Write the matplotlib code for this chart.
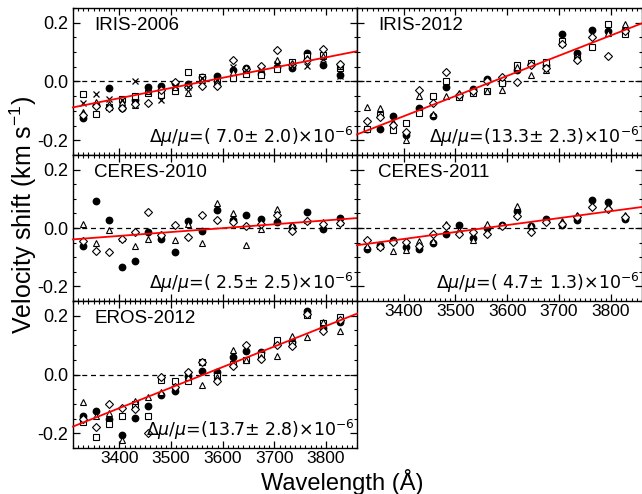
import matplotlib
matplotlib.use('Agg')
import matplotlib.pyplot as plt
import numpy as np
from matplotlib.ticker import MultipleLocator

plt.rcParams['font.family'] = ['Liberation Sans', 'DejaVu Sans']
plt.rcParams['mathtext.fontset'] = 'dejavusans'

# ---------------- data ----------------
wave = [3330, 3354, 3380, 3405, 3430, 3456, 3481, 3507, 3533, 3560,
        3589, 3619, 3645, 3675, 3705, 3734, 3763, 3795, 3827]

panel_names = ['IRIS-2006', 'IRIS-2012', 'CERES-2010', 'CERES-2011', 'EROS-2012']
dmu_value = [7.0, 13.3, 2.5, 4.7, 13.7]
dmu_error = [2.0, 2.3, 2.5, 1.3, 2.8]
fit_wave = [3310, 3860]
fit_at_3310 = [-0.088, -0.180, -0.039, -0.059, -0.177]
fit_at_3860 = [0.103, 0.198, 0.034, 0.072, 0.207]

iris2006_circle = [-0.125, -0.080, -0.023, -0.091, -0.063, -0.019, -0.017, -0.006, -0.008, 0.015,
                   0.019, 0.040, 0.046, 0.026, 0.051, 0.046, 0.097, 0.057, 0.023]
iris2006_square = [-0.042, -0.109, -0.088, -0.061, -0.049, -0.040, -0.046, -0.032, 0.031, 0.017,
                   0.006, 0.011, 0.026, 0.023, 0.042, 0.065, 0.086, 0.091, 0.046]
iris2006_triangle = [-0.105, -0.069, -0.077, -0.069, -0.080, -0.034, -0.023, -0.019, -0.038, 0.006,
                     0.000, 0.034, 0.040, 0.046, 0.074, 0.063, 0.080, 0.086, 0.054]
iris2006_diamond = [-0.115, -0.083, -0.091, -0.091, -0.077, -0.072, -0.029, -0.003, -0.019, -0.015,
                    -0.015, 0.074, 0.042, 0.054, 0.106, 0.057, 0.074, 0.111, 0.061]
iris2006_cross = [-0.072, -0.042, -0.061, -0.063, 0.000, -0.031, -0.063, -0.015, -0.019, 0.011,
                  0.006, 0.051, 0.040, 0.038, 0.061, 0.054, 0.054, 0.077, 0.019]

iris2012_circle = [-0.160, -0.160, -0.117, -0.183, -0.091, -0.118, -0.019, -0.051, -0.026, 0.009,
                   -0.006, 0.040, 0.061, 0.057, 0.162, 0.097, 0.175, 0.171, 0.175]
iris2012_square = [-0.163, -0.114, -0.166, -0.141, -0.106, -0.049, 0.000, -0.054, -0.038, -0.034,
                   -0.006, 0.057, 0.063, 0.065, 0.137, 0.080, 0.118, 0.194, 0.162]
iris2012_triangle = [-0.088, -0.091, -0.137, -0.198, -0.049, -0.112, -0.051, -0.040, -0.029, -0.034,
                     -0.029, 0.051, 0.023, 0.040, 0.131, 0.086, 0.157, 0.166, 0.194]
iris2012_diamond = [-0.134, -0.122, -0.149, -0.171, -0.029, -0.072, 0.031, -0.046, -0.034, 0.000,
                    0.014, -0.003, 0.057, 0.046, 0.126, 0.074, 0.152, 0.086, 0.171]

ceres2010_circle = [-0.063, 0.093, 0.026, -0.134, -0.114, -0.014, -0.037, -0.082, 0.023, -0.010,
                    0.061, 0.029, 0.046, 0.032, 0.021, 0.003, 0.055, -0.005, 0.035]
ceres2010_triangle = [0.013, -0.050, -0.008, -0.033, -0.063, -0.037, -0.025, -0.042, 0.015, -0.050,
                      0.086, 0.051, -0.059, -0.002, 0.066, 0.009, 0.029, 0.021, 0.021]
ceres2010_diamond = [-0.045, -0.079, -0.082, -0.037, -0.014, 0.055, -0.025, 0.009, -0.031, 0.043,
                     0.026, 0.021, 0.006, 0.013, 0.043, -0.010, 0.025, 0.013, 0.017]

ceres2011_circle = [-0.071, -0.059, -0.040, -0.065, -0.071, -0.051, -0.019, 0.009, -0.033, 0.001,
                    0.009, 0.057, 0.006, 0.032, 0.009, 0.026, 0.095, 0.089, 0.032]
ceres2011_triangle = [-0.060, -0.062, -0.079, -0.074, -0.045, -0.045, 0.015, -0.006, -0.040, 0.013,
                      0.009, 0.074, 0.009, 0.028, 0.024, 0.043, 0.078, 0.075, 0.043]
ceres2011_diamond = [-0.040, -0.065, -0.048, -0.048, -0.060, -0.022, 0.006, -0.019, -0.014, -0.019,
                     0.006, 0.040, -0.014, 0.021, 0.015, 0.038, 0.072, 0.066, 0.038]

eros2012_circle = [-0.142, -0.124, -0.151, -0.206, -0.148, -0.107, -0.069, -0.057, -0.006, 0.013,
                   0.009, 0.058, 0.079, 0.078, 0.105, 0.110, 0.216, 0.157, 0.180]
eros2012_square = [-0.163, -0.212, -0.169, -0.142, -0.099, -0.140, -0.020, -0.022, -0.022, 0.044,
                   -0.006, 0.036, 0.050, 0.067, 0.117, 0.105, 0.201, 0.176, 0.195]
eros2012_triangle = [-0.092, -0.142, -0.130, -0.223, -0.090, -0.076, -0.060, -0.043, -0.010, -0.035,
                     -0.010, 0.085, 0.048, 0.060, 0.062, 0.131, 0.128, 0.178, 0.149]
eros2012_diamond = [-0.153, -0.179, -0.099, -0.115, -0.119, -0.200, -0.010, -0.043, 0.009, 0.044,
                    -0.022, 0.029, 0.099, 0.052, 0.100, 0.097, 0.205, 0.149, 0.187]

panel_series = [
    {'o': iris2006_circle, 's': iris2006_square, '^': iris2006_triangle, 'D': iris2006_diamond, 'x': iris2006_cross},
    {'o': iris2012_circle, 's': iris2012_square, '^': iris2012_triangle, 'D': iris2012_diamond},
    {'o': ceres2010_circle, '^': ceres2010_triangle, 'D': ceres2010_diamond},
    {'o': ceres2011_circle, '^': ceres2011_triangle, 'D': ceres2011_diamond},
    {'o': eros2012_circle, 's': eros2012_square, '^': eros2012_triangle, 'D': eros2012_diamond},
]

# ---------------- layout ----------------
W, H = 642, 494
fig = plt.figure(figsize=(W / 100, H / 100), dpi=100)

col_x = [73, 357]
col_w = [284, 285]
row_top = [8, 155, 301]
row_bot = [155, 301, 448]
cells = [(0, 0), (0, 1), (1, 0), (1, 1), (2, 0)]
xlabel_panels = {3, 4}

msize = {'o': 4.6, 's': 4.8, '^': 5.0, 'D': 4.0, 'x': 5.0}

for i, (r, c) in enumerate(cells):
    ax = fig.add_axes([col_x[c] / W, 1 - row_bot[r] / H, col_w[c] / W, (row_bot[r] - row_top[r]) / H])
    ax.set_xlim(3310, 3860)
    ax.set_ylim(-0.25, 0.25)
    ax.axhline(0, color='black', lw=0.9, ls=(0, (4, 3)), zorder=1)
    for m, vals in panel_series[i].items():
        if m == 'o':
            ax.plot(wave, vals, ls='none', marker='o', ms=msize[m], mfc='black', mec='black', zorder=3)
        elif m == 'x':
            ax.plot(wave, vals, ls='none', marker='x', ms=msize[m], mec='black', mew=0.9, zorder=3)
        else:
            ax.plot(wave, vals, ls='none', marker=m, ms=msize[m], mfc='white', mec='black', mew=0.8, zorder=3)
    ax.plot(fit_wave, [fit_at_3310[i], fit_at_3860[i]], color='red', lw=1.3, zorder=4, clip_on=False)
    ax.text(0.075, 0.88, panel_names[i], transform=ax.transAxes, fontsize=13.5, va='center', ha='left')
    ax.text(0.99, 0.085,
            r'$\Delta\mu/\mu$=(%4.1f$\pm$%4.1f)$\times$10$^{-6}$' % (dmu_value[i], dmu_error[i]),
            transform=ax.transAxes, fontsize=12.5, ha='right', va='baseline', family='DejaVu Sans')
    ax.xaxis.set_major_locator(MultipleLocator(100))
    ax.xaxis.set_minor_locator(MultipleLocator(10))
    ax.yaxis.set_major_locator(MultipleLocator(0.2))
    ax.yaxis.set_minor_locator(MultipleLocator(0.05))
    ax.tick_params(which='both', direction='in', top=True, right=True, labelsize=13)
    ax.tick_params(which='major', length=5, width=0.9)
    ax.tick_params(which='minor', length=2.5, width=0.8)
    for s in ax.spines.values():
        s.set_linewidth(1.0)
    if c == 1:
        ax.set_yticklabels([])
    else:
        ax.yaxis.set_major_formatter(matplotlib.ticker.FormatStrFormatter('%.1f'))
    if i not in xlabel_panels:
        ax.set_xticklabels([])
    else:
        ax.tick_params(axis='x', pad=2.5, labelsize=12.5)

fig.text(0.036, 0.565, r'Velocity shift (km s$^{\mathregular{-1}}$)', rotation=90,
         fontsize=18, ha='center', va='center')
fig.text(0.533, 0.008, 'Wavelength (Å)', fontsize=17, ha='center', va='baseline')

fig.savefig('out.png', dpi=100)
